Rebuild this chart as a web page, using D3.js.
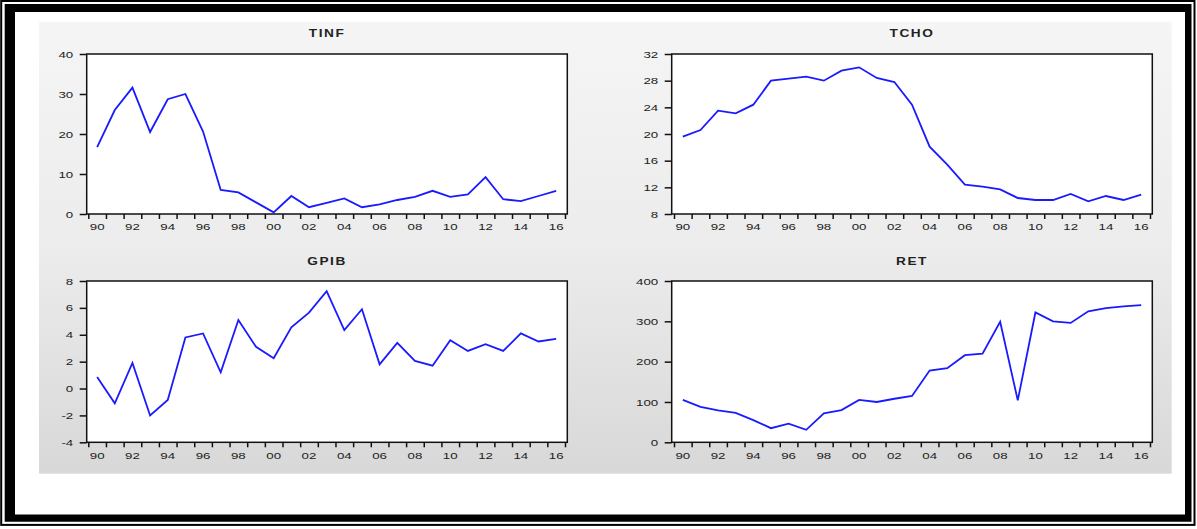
<!DOCTYPE html>
<html>
<head>
<meta charset="utf-8">
<script src="https://cdn.jsdelivr.net/npm/d3@7/dist/d3.min.js"></script>
<style>
  body { margin: 0; background: #fff; }
  svg { display: block; }
</style>
</head>
<body>
<div id="chart"></div>
<script>
/* DATA */
const years = [1990, 1991, 1992, 1993, 1994, 1995, 1996, 1997, 1998, 1999, 2000, 2001, 2002,
  2003, 2004, 2005, 2006, 2007, 2008, 2009, 2010, 2011, 2012, 2013, 2014, 2015, 2016];
const xLabels = ["90", "92", "94", "96", "98", "00", "02", "04", "06", "08", "10", "12", "14", "16"];

const tinf = [16.7, 26.0, 31.6, 20.5, 28.7, 30.0, 20.6, 6.0, 5.4, 2.9, 0.4, 4.5, 1.7, 2.8,
  3.9, 1.7, 2.4, 3.5, 4.3, 5.8, 4.3, 4.9, 9.2, 3.7, 3.2, 4.5, 5.8];
const tcho = [19.6, 20.6, 23.5, 23.1, 24.4, 28.0, 28.3, 28.6, 28.0, 29.5, 30.0, 28.4, 27.8,
  24.4, 18.1, 15.4, 12.4, 12.1, 11.7, 10.4, 10.1, 10.1, 11.0, 9.9, 10.7, 10.1, 10.9];
const gpib = [0.85, -1.1, 1.9, -2.0, -0.85, 3.8, 4.1, 1.2, 5.1, 3.1, 2.25, 4.55, 5.65, 7.25,
  4.35, 5.9, 1.8, 3.4, 2.05, 1.7, 3.6, 2.8, 3.3, 2.8, 4.1, 3.5, 3.7];
const ret = [105, 88, 79, 73, 55, 35, 46, 31, 72, 80, 105, 100, 108, 115,
  178, 184, 216, 220, 299, 104, 322, 300, 296, 325, 333, 337, 340];

const ticksTinf = [0, 10, 20, 30, 40];
const ticksTcho = [8, 12, 16, 20, 24, 28, 32];
const ticksGpib = [-4, -2, 0, 2, 4, 6, 8];
const ticksRet = [0, 100, 200, 300, 400];

/* LAYOUT */
const width = 1197, height = 529;
const cols = [
  { left: 86.7, right: 567.3, t0: 88.3, t1: 565 },
  { left: 671.7, right: 1152.3, t0: 674, t1: 1150 }
];
const rows = [
  { top: 54, bottom: 214, titleY: 34.5, labelY: 230 },
  { top: 281, bottom: 442.3, titleY: 262.5, labelY: 459 }
];
const stretch = 1.4; // the tick text in the picture is drawn wide

const panels = [
  { title: "TINF", values: tinf, ticks: ticksTinf, col: 0, row: 0 },
  { title: "TCHO", values: tcho, ticks: ticksTcho, col: 1, row: 0 },
  { title: "GPIB", values: gpib, ticks: ticksGpib, col: 0, row: 1 },
  { title: "RET", values: ret, ticks: ticksRet, col: 1, row: 1 }
];

const svg = d3.select("#chart")
  .append("svg")
  .attr("width", width)
  .attr("height", height)
  .style("font-family", "'Liberation Sans', Arial, sans-serif");

// page frame (thin outer line + thick inner band)
svg.append("rect")
  .attr("x", 1.2).attr("y", 1)
  .attr("width", 1193.3).attr("height", 523.9)
  .attr("fill", "none")
  .attr("stroke", "#000")
  .attr("stroke-width", 2);

svg.append("path")
  .attr("fill", "#000")
  .attr("fill-rule", "evenodd")
  .attr("d", "M4.7,4 H1191.5 V521.7 H4.7 Z M15,12 V514.5 H1185 V12 Z");

// gray graph background
const grad = svg.append("defs").append("linearGradient")
  .attr("id", "bg").attr("x1", 0).attr("y1", 0).attr("x2", 0).attr("y2", 1);
grad.append("stop").attr("offset", "0%").attr("stop-color", "#f5f5f5");
grad.append("stop").attr("offset", "50%").attr("stop-color", "#ececec");
grad.append("stop").attr("offset", "100%").attr("stop-color", "#d8d8d8");

svg.append("rect")
  .attr("x", 39).attr("y", 21.7)
  .attr("width", 1132.7).attr("height", 452)
  .attr("fill", "url(#bg)");

panels.forEach(p => {
  const c = cols[p.col], r = rows[p.row];

  const xScale = d3.scaleLinear()
    .domain([years[0], years[years.length - 1] + 1])
    .range([c.t0, c.t1]);

  const yScale = d3.scaleLinear()
    .domain(d3.extent(p.ticks))
    .range([r.bottom, r.top]);

  const g = svg.append("g");

  // plot frame
  g.append("rect")
    .attr("x", c.left).attr("y", r.top)
    .attr("width", c.right - c.left).attr("height", r.bottom - r.top)
    .attr("fill", "#fff")
    .attr("stroke", "#111")
    .attr("stroke-width", 1.5);

  // x axis: a tick at every year boundary, label every second year centred in the year
  const xAxis = d3.axisBottom(xScale)
    .tickValues(years.concat([years[years.length - 1] + 1]))
    .tickSize(5)
    .tickFormat("");

  const xAxisGroup = g.append("g")
    .attr("transform", `translate(0, ${r.bottom})`)
    .call(xAxis);
  xAxisGroup.select(".domain").remove();
  xAxisGroup.selectAll("line").attr("stroke", "#111").attr("stroke-width", 1.5);

  g.selectAll("text.xlab")
    .data(xLabels)
    .join("text")
    .attr("class", "xlab")
    .attr("transform", (d, i) => `translate(${xScale(years[i * 2] + 0.5)}, ${r.labelY}) scale(${stretch},1)`)
    .attr("text-anchor", "middle")
    .attr("font-size", 9.5)
    .attr("fill", "#222")
    .text(d => d);

  // y axis
  const yAxis = d3.axisLeft(yScale)
    .tickValues(p.ticks)
    .tickSize(7)
    .tickFormat(d => String(d)); // plain hyphen for negatives, as in the picture

  const yAxisGroup = g.append("g")
    .attr("transform", `translate(${c.left}, 0)`)
    .call(yAxis);
  yAxisGroup.select(".domain").remove();
  yAxisGroup.selectAll("line").attr("stroke", "#111").attr("stroke-width", 1.5);
  yAxisGroup.selectAll("text")
    .attr("x", -13.5 / stretch)
    .attr("transform", `scale(${stretch},1)`)
    .attr("font-size", 9.5)
    .attr("font-family", "'Liberation Sans', Arial, sans-serif")
    .attr("fill", "#222");

  // title
  g.append("text")
    .attr("transform", `translate(${(c.left + c.right) / 2}, ${r.titleY}) scale(1.3,1)`)
    .attr("text-anchor", "middle")
    .attr("dominant-baseline", "middle")
    .attr("font-size", 10.5)
    .attr("font-weight", "bold")
    .attr("letter-spacing", 1.2)
    .attr("fill", "#222")
    .text(p.title);

  // series line
  const lineFunction = d3.line()
    .x((d, i) => xScale(years[i] + 0.5))
    .y(d => yScale(d));

  g.append("path")
    .datum(p.values)
    .attr("fill", "none")
    .attr("stroke", "#1a1aff")
    .attr("stroke-width", 1.8)
    .attr("stroke-linejoin", "miter")
    .attr("d", lineFunction);
});
</script>
</body>
</html>
